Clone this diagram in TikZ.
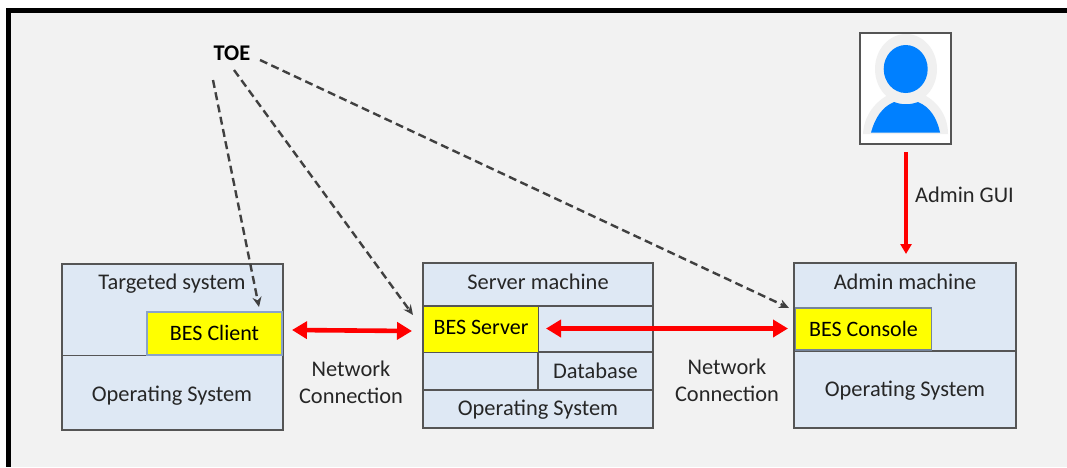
\documentclass[tikz,border=0pt]{standalone}
\usepackage{fontspec}
\setmainfont{Carlito}
\usetikzlibrary{arrows.meta}
\definecolor{panelgray}{HTML}{F2F2F2}
\definecolor{boxblue}{HTML}{DEE8F4}
\definecolor{edgegray}{HTML}{555555}
\definecolor{inkgray}{HTML}{262626}
\definecolor{userblue}{HTML}{0080FF}
\definecolor{halogray}{HTML}{F0F0F0}
\definecolor{besyellow}{HTML}{FFFF00}
\definecolor{linkred}{HTML}{FF0000}
\definecolor{dashgray}{HTML}{404040}
\definecolor{clientedge}{HTML}{8AA3C8}

\begin{document}
\begin{tikzpicture}[x=1pt,y=-1pt,
   machine/.style={draw=edgegray,line width=1.9pt,fill=boxblue,inner sep=0pt,outer sep=0pt,anchor=north west},
   part/.style={draw=edgegray,line width=1.5pt},
   bes/.style={draw=#1,line width=1.2pt,fill=besyellow,inner sep=0pt,outer sep=0pt,anchor=north west,text=black,font=\fontsize{22}{26}\selectfont},
   bes/.default=edgegray,
   lbl/.style={text=inkgray,inner sep=0pt,align=center,font=\fontsize{22.4}{27}\selectfont},
   toelink/.style={draw=dashgray,line width=2.4pt,dash pattern=on 8pt off 4.5pt,-{Stealth[length=10pt,width=9pt]}},
   netlink/.style={draw=linkred,line width=4.6pt,{Triangle[length=15pt,width=17pt]}-{Triangle[length=15pt,width=17pt]}}]

 \useasboundingbox (0,0) rectangle (1067,467);
 \fill[white] (0,0) rectangle (1067,467);
 \fill[panelgray] (6,8) rectangle (1067,467);
 \fill[black] (6,8) rectangle (1067,13);
 \fill[black] (6,8) rectangle (11,467);

 % Targeted system
 \node[machine,minimum width=221pt,minimum height=166pt] (target) at (62,264) {};
 \draw[part] (62,355.5) -- (283,355.5);
 \node[bes=clientedge,minimum width=135pt,minimum height=43pt] (client) at (147,312) {\raisebox{1pt}{BES Client}};
 \node[lbl] (targetlbl) at (172,284) {Targeted system};
 \node[lbl] (targetos) at (172,395.5) {Operating System};

 % Server machine
 \node[machine,minimum width=230pt,minimum height=165pt] (server) at (423,263) {};
 \draw[part] (423,306) -- (653,306);
 \draw[part] (423,352) -- (653,352);
 \draw[part] (423,390) -- (653,390);
 \draw[part] (538,306) -- (538,390);
 \node[bes,minimum width=115pt,minimum height=46pt] (besserver) at (423.5,306.5) {\raisebox{5pt}{BES Server}};
 \node[lbl] (serverlbl) at (538,282) {Server machine};
 \node[lbl] (database) at (595.5,371) {Database};
 \node[lbl] (serveros) at (538,410) {Operating System};

 % Admin machine
 \node[machine,minimum width=222pt,minimum height=165pt] (admin) at (794,263) {};
 \draw[part] (794,351) -- (1016,351);
 \node[bes=clientedge!60!edgegray,minimum width=136pt,minimum height=42pt] (console) at (795.5,308) {BES Console};
 \node[lbl] (adminlbl) at (905,282) {Admin machine};
 \node[lbl] (adminos) at (905,391) {Operating System};

 % user picture
 \node[draw=edgegray,line width=1.6pt,fill=white,inner sep=0pt,outer sep=0pt,anchor=north west,minimum width=91pt,minimum height=111pt] (user) at (860,33) {};
 \fill[halogray] (906,69) ellipse (31pt and 35pt);
 \fill[halogray] (863,134) .. controls (864,112) and (880,97) .. (895,92) -- (917,92) .. controls (933,97) and (948,112) .. (948,134) -- cycle;
 \fill[userblue] (871,132.5) .. controls (875,118) and (882,107) .. (894,102) .. controls (902,105) and (910,105) .. (918,102) .. controls (930,107) and (937,118) .. (940,132.5) -- cycle;
 \fill[userblue] (905.7,69) ellipse (22pt and 24pt);

 \node[lbl,font=\fontsize{22.4}{27}\selectfont\bfseries,text=black] (toe) at (232,53) {TOE};
 \node[lbl] (adminguilbl) at (964.5,195) {Admin GUI};
 \node[lbl] (netlbla) at (351,382.5) {Network\\Connection};
 \node[lbl] (netlblb) at (727,380.5) {Network\\Connection};

 % free ends
 \coordinate (toeA) at (213,80);
 \coordinate (toeB) at (234,70);
 \coordinate (toeC) at (260,60);
 \coordinate (clienttip) at (259,307);
 \coordinate (servertip) at (413,315);
 \coordinate (consoletip) at (789,308);
 \coordinate (netAl) at (292,330);
 \coordinate (netAr) at (412,331);
 \coordinate (netBl) at (546,328.5);
 \coordinate (netBr) at (788,328.5);
 \coordinate (guitop) at (906,152);
 \coordinate (guitip) at (906,254);

 \draw[toelink] (toeA) -- (clienttip);
 \draw[toelink] (toeB) -- (servertip);
 \draw[toelink] (toeC) -- (consoletip);
 \draw[netlink] (netAl) -- (netAr);
 \draw[netlink] (netBl) -- (netBr);
 \draw[draw=linkred,line width=3.3pt,-{Triangle[length=10pt,width=11pt]}] (guitop) -- (guitip);
\end{tikzpicture}
\end{document}
